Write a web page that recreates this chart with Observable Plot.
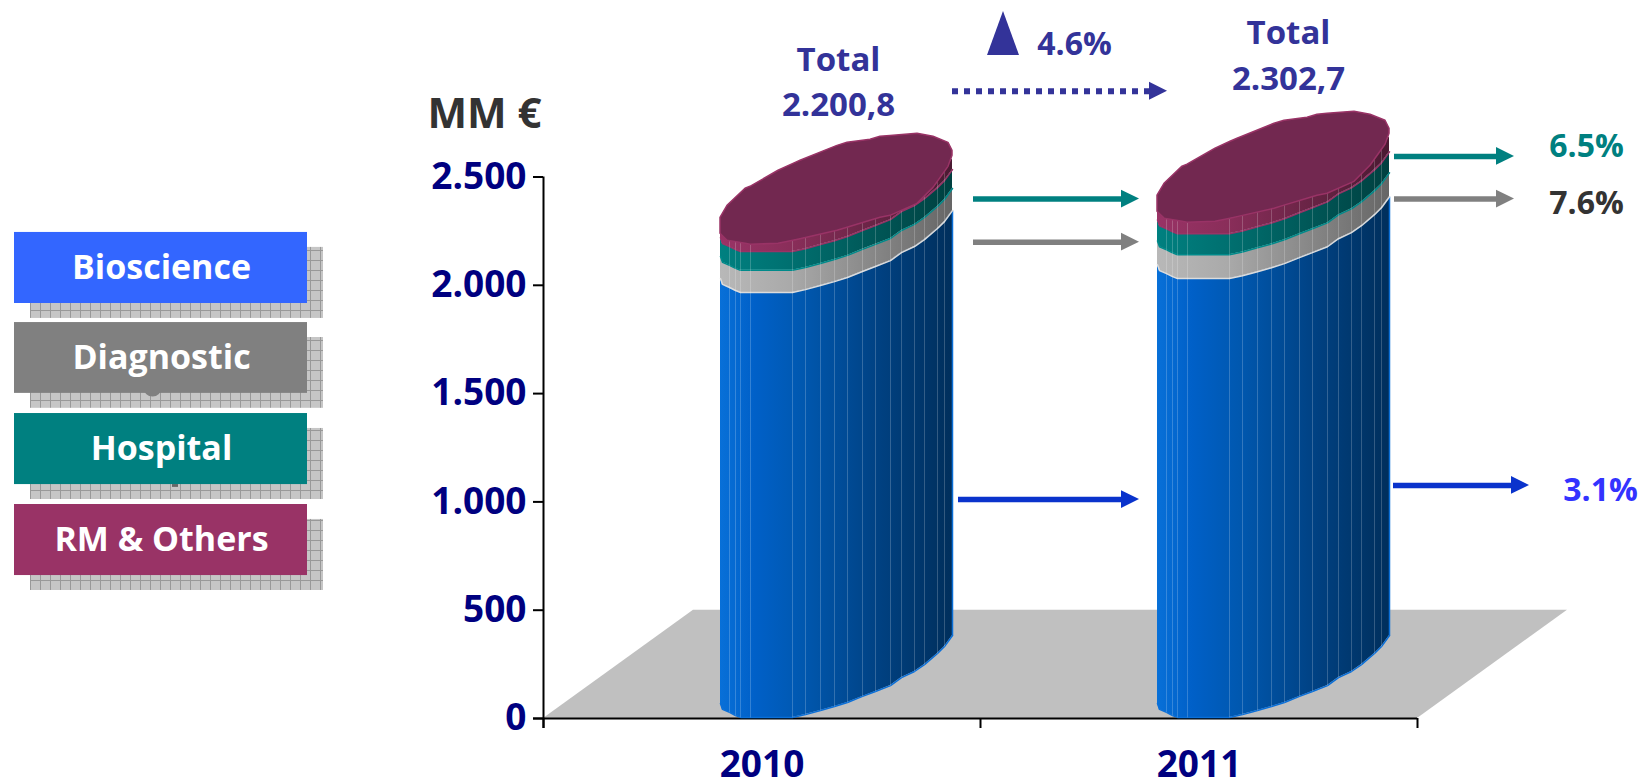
<!DOCTYPE html>
<html><head><meta charset="utf-8">
<script src="https://cdn.jsdelivr.net/npm/d3@7"></script>
<script src="https://cdn.jsdelivr.net/npm/@observablehq/plot@0.6"></script>
<style>html,body{margin:0;background:#fff}svg{display:block}</style>
</head><body><div id="chart"></div>
<script>
const FONT = "'Open Sans', Lato, sans-serif";
const years = [2010, 2011];
const yearCentres = [218.5, 655.5];
const cylinderLeft = [177, 614];
const bioscience = [1962, 2026];
const diagnostic = [102, 110];
const hospital = [87, 97];
const rmOthers = [49.8, 69.7];
const totals = [2200.8, 2302.7];
const totalLabels = ["2.200,8", "2.302,7"];
const yTicks = [0, 500, 1000, 1500, 2000, 2500];
const xTicks = [0, 437, 874];

// front rim of the 3D cylinder: horizontal offset, lift above the axis
const rimDx   = [0, 2, 9, 15, 20, 30, 72, 85, 100, 114, 127, 142, 155, 170, 181, 194, 204, 217, 224, 232];
const rimLift = [69, 42, 28, 14, 5, 5, 5, 18, 37, 55, 74, 102, 125, 152, 189, 217, 249, 300, 332, 383];
// top face outline relative to the total
const faceDx    = [0, 7, 25, 30, 58, 73, 80, 117, 127, 150, 160, 170, 197, 213, 228, 232];
const faceBack  = [111, 166, 245, 254, 328, 360, 374, 443, 457, 471, 485, 489, 499, 485, 457, 420];
const faceFront = [37, 5, -9, -14, -9, 5, 12, 51, 65, 97, 111, 120, 175, 249, 346, 397];

const floorY = [0, 500];
const floorX1 = [0, 150];
const floorX2 = [874, 1024];

const legendNames = ["Bioscience", "Diagnostic", "Hospital", "RM & Others"];
const legendColors = ["#3366ff", "#808080", "#008080", "#993366"];
const legendTop = [2244, 1828, 1408, 988];
const legendBottom = [1916, 1501, 1080, 660];

const arrowColor = ["#008080", "#808080", "#0a33cc", "#008080", "#808080", "#0a33cc"];
const arrowStart = [430, 430, 415, 851, 851, 850];
const arrowTip = [596, 596, 596, 971, 971, 986];
const arrowLevel = [2398, 2199, 1011, 2595, 2398, 1076];
const growthLabels = ["6.5%", "7.6%", "3.1%"];
const growthColors = ["#008080", "#333333", "#3333ff"];
const growthX = [1043, 1043, 1057];
const growthY = [2641, 2375, 1053];

const rows = (series, floor) => years.flatMap((year, i) => rimDx.map((dx, k) => ({
  year, x: cylinderLeft[i] + dx,
  y1: rimLift[k] + floor[i], y2: rimLift[k] + floor[i] + series[i]
})));
const cum1 = bioscience;
const cum2 = cum1.map((d, i) => d + diagnostic[i]);
const cum3 = cum2.map((d, i) => d + hospital[i]);
const zero = [0, 0];
const blueRows = rows(bioscience, zero), greyRows = rows(diagnostic, cum1),
      tealRows = rows(hospital, cum2), rmRows = rows(rmOthers, cum3);
const faceRows = years.flatMap((year, i) => faceDx.map((dx, k) => ({
  year, x: cylinderLeft[i] + dx, y1: totals[i] + faceFront[k], y2: totals[i] + faceBack[k]
})));
const seams = years.flatMap((year, i) => rimDx.slice(2, -1).map((dx, j) => ({
  x: cylinderLeft[i] + dx, y1: rimLift[j + 2], y2: rimLift[j + 2] + totals[i]
})));
const rightEdges = years.map((year, i) => ({
  x: cylinderLeft[i] + rimDx[rimDx.length - 1], y1: rimLift[rimLift.length - 1], y2: rimLift[rimLift.length - 1] + bioscience[i]
}));
const headLen = 18, headHalf = 41;
const heads = arrowTip.flatMap((tip, i) => [
  {id: i, x: tip - headLen, y1: arrowLevel[i] - headHalf, y2: arrowLevel[i] + headHalf, c: arrowColor[i]},
  {id: i, x: tip, y1: arrowLevel[i], y2: arrowLevel[i], c: arrowColor[i]}
]);
const dashed = [{x1: 409, x2: 607, y: 2896}];
const dashedHead = [{x: 606, y1: 2854, y2: 2938}, {x: 624, y1: 2896, y2: 2896}];
const bigTriangle = [{x: 444, y1: 3061, y2: 3061}, {x: 460, y1: 3061, y2: 3264}, {x: 476, y1: 3061, y2: 3061}];

const fmt = d3.formatLocale({thousands: ".", grouping: [3], decimal: ","}).format(",");
const band = (data, fill, edge) => [
  Plot.area(data, {x1: "x", x2: "x", y1: "y1", y2: "y2", z: "year", fill}),
  Plot.line(data, {x: "x", y: "y1", z: "year", stroke: edge, strokeWidth: 1.5})
];
const label = (text, x, y, fill, fontSize = 33) =>
  Plot.text([text], {x: () => x, y: () => y, text: d => d, fill, fontSize, fontWeight: 700, fontFamily: FONT});

const svg = Plot.plot({
  width: 1644, height: 781,
  marginLeft: 543, marginRight: 227, marginTop: 176.5, marginBottom: 63,
  style: {background: "#fff", overflow: "visible"},
  x: {domain: [0, 874]},
  y: {domain: [0, 2500]},
  marks: [
    Plot.area(floorY.map((y, i) => ({y, x1: floorX1[i], x2: floorX2[i]})), {x1: "x1", x2: "x2", y1: "y", y2: "y", fill: "#c0c0c0"}),
    Plot.axisY(yTicks, {tickSize: 10, tickPadding: 7, tickFormat: fmt, stroke: "#000", strokeWidth: 2, fill: "#000080",
      fontSize: 37, fontWeight: 700, fontFamily: FONT, label: null}),
    Plot.axisX(xTicks, {tickSize: 10, tickFormat: () => "", stroke: "#000", strokeWidth: 2, label: null}),
    Plot.axisX(yearCentres, {tickSize: 0, tickPadding: 32, tickFormat: (d, i) => String(years[i]), fill: "#000080",
      fontSize: 37, fontWeight: 700, fontFamily: FONT, label: null}),
    Plot.ruleY([0], {stroke: "#000", strokeWidth: 2, x1: -10, x2: 874}),
    Plot.ruleX([0], {stroke: "#000", strokeWidth: 2, y1: -46, y2: 2500}),

    ...band(blueRows, "url(#gBlue)", "#0a6fd8"),
    Plot.link(rightEdges, {x1: "x", x2: "x", y1: "y1", y2: "y2", stroke: "#0a6fd8", strokeWidth: 1.5}),
    ...band(greyRows, "url(#gGrey)", "#dcdcdc"),
    ...band(tealRows, "url(#gTeal)", "#008a8a"),
    ...band(rmRows, "url(#gRm)", "#993366"),
    Plot.link(seams, {x1: "x", x2: "x", y1: "y1", y2: "y2", stroke: "#fff", strokeOpacity: 0.2, strokeWidth: 1}),
    Plot.area(faceRows, {x1: "x", x2: "x", y1: "y1", y2: "y2", z: "year", fill: "#722850", stroke: "#993366", strokeWidth: 1.5}),

    Plot.ruleY(arrowTip.map((t, i) => ({x1: arrowStart[i], x2: t - headLen + 1, y: arrowLevel[i], c: arrowColor[i]})),
      {x1: "x1", x2: "x2", y: "y", stroke: "c", strokeWidth: 5.5}),
    Plot.area(heads, {x1: "x", x2: "x", y1: "y1", y2: "y2", z: "id", fill: "c"}),
    Plot.ruleY(dashed, {x1: "x1", x2: "x2", y: "y", stroke: "#333399", strokeWidth: 6, strokeDasharray: "6 6"}),
    Plot.area(dashedHead, {x1: "x", x2: "x", y1: "y1", y2: "y2", fill: "#333399"}),
    Plot.area(bigTriangle, {x1: "x", x2: "x", y1: "y1", y2: "y2", fill: "#333399"}),

    label("MM €", -59, 2789, "#333333", 42),
    label("Total", 295, 3038, "#333399"),
    label(totalLabels[0], 295, 2830, "#333399"),
    label("Total", 745, 3165, "#333399"),
    label(totalLabels[1], 745, 2952, "#333399"),
    label("4.6%", 531, 3112, "#333399", 32),
    ...growthLabels.map((t, i) => label(t, growthX[i], growthY[i], growthColors[i], 32)),

    Plot.rect(legendNames, {x1: () => -513, x2: () => -220, y1: (d, i) => legendTop[i] - 69, y2: (d, i) => legendBottom[i] - 69, fill: "url(#gridP)", inset: 0}),
    Plot.dot([1], {x: () => -391, y: () => 1528, r: 9, fill: "#808080"}),
    Plot.rect([1], {x1: () => -371, x2: () => -365, y1: () => 1080, y2: () => 1067, fill: "#666"}),
    Plot.rect(legendNames, {x1: () => -529, x2: () => -236, y1: (d, i) => legendTop[i], y2: (d, i) => legendBottom[i], fill: (d, i) => legendColors[i]}),
    Plot.text(legendNames, {x: () => -382, y: (d, i) => (legendTop[i] + legendBottom[i]) / 2, text: d => d, fill: "#fff", fontSize: 34, fontWeight: 700, fontFamily: FONT})
  ]
});
svg.insertAdjacentHTML("afterbegin", `<defs>
<linearGradient id="gBlue"><stop offset="0" stop-color="#0870d8"/><stop offset=".15" stop-color="#0060c8"/><stop offset=".35" stop-color="#0058b0"/><stop offset=".7" stop-color="#004080"/><stop offset="1" stop-color="#002f5c"/></linearGradient>
<linearGradient id="gGrey"><stop offset="0" stop-color="#b8b8b8"/><stop offset=".3" stop-color="#aaa"/><stop offset="1" stop-color="#666"/></linearGradient>
<linearGradient id="gTeal"><stop offset="0" stop-color="#008080"/><stop offset=".3" stop-color="#007070"/><stop offset="1" stop-color="#004040"/></linearGradient>
<linearGradient id="gRm"><stop offset="0" stop-color="#993366"/><stop offset=".3" stop-color="#8a2e5a"/><stop offset="1" stop-color="#4a1a32"/></linearGradient>
<pattern id="gridP" width="10" height="10" patternUnits="userSpaceOnUse"><rect width="10" height="10" fill="#c6c6c6"/><path d="M0 .5H10M.5 0V10" stroke="#999" stroke-width="1"/></pattern>
</defs>`);
document.getElementById("chart").append(svg);
</script></body></html>
